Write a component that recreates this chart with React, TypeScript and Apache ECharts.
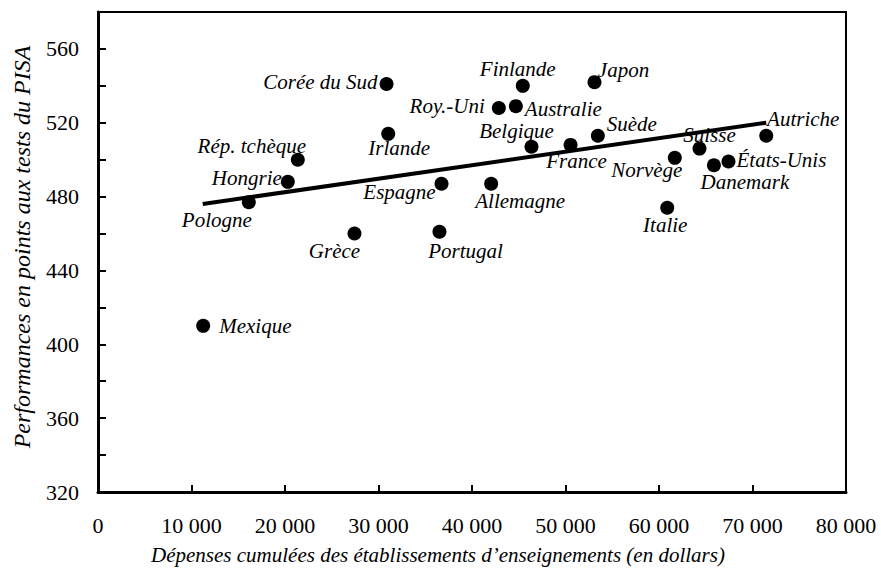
import React, { useEffect, useRef } from "react";
import * as echarts from "echarts";

const countries = [
  "Mexique", "Pologne", "Hongrie", "Rép. tchèque", "Corée du Sud", "Irlande", "Grèce",
  "Espagne", "Portugal", "Allemagne", "Roy.-Uni", "Australie", "Finlande", "Belgique",
  "France", "Japon", "Suède", "Norvège", "Italie", "Suisse", "Danemark", "États-Unis", "Autriche",
];
const spending = [
  11250, 16130, 20300, 21370, 30860, 31040, 27430,
  36740, 36520, 42050, 42870, 44690, 45430, 46360,
  50540, 53100, 53460, 61690, 60880, 64330, 65870, 67430, 71470,
];
const scores = [
  410, 477, 488, 500, 541, 514, 460,
  487, 461, 487, 528, 529, 540, 507,
  508, 542, 513, 501, 474, 506, 497, 499, 513,
];
const trendX = [11200, 71470];
const trendY = [476, 520];

const xTicks = { min: 0, max: 80000, step: 10000 };
const yTicks = { min: 320, max: 580, step: 20, labelStep: 40 };

// label placement per country: [dx, dy, align]
const labelPlacement: Record<string, [number, number, string]> = {
  "Mexique": [16, 0, "left"],
  "Pologne": [-32, 18, "center"],
  "Hongrie": [-6, -4, "right"],
  "Rép. tchèque": [-46, -14, "center"],
  "Corée du Sud": [-9, -2, "right"],
  "Irlande": [11, 14, "center"],
  "Grèce": [-20, 17, "center"],
  "Espagne": [-42, 8, "center"],
  "Portugal": [26, 19, "center"],
  "Allemagne": [29, 17, "center"],
  "Roy.-Uni": [-14, -2, "right"],
  "Australie": [9, 3, "left"],
  "Finlande": [-5, -17, "center"],
  "Belgique": [-15, -16, "center"],
  "France": [6, 16, "center"],
  "Japon": [29, -12, "center"],
  "Suède": [34, -12, "center"],
  "Norvège": [-28, 12, "center"],
  "Italie": [-2, 17, "center"],
  "Suisse": [10, -14, "center"],
  "Danemark": [31, 17, "center"],
  "États-Unis": [8, -2, "left"],
  "Autriche": [37, -17, "center"],
};

const FONT = "Liberation Serif";
const tickText = { fontFamily: FONT, fontStyle: "normal", fontWeight: "normal", fontSize: 22, color: "#000" };

export default function App() {
  const ref = useRef<HTMLDivElement>(null);
  useEffect(() => {
    document.body.style.margin = "0";
    if (!ref.current) return;
    const chart = echarts.init(ref.current, null, { renderer: "svg" });
    const points = countries.map((name, i) => {
      const p = labelPlacement[name] || [0, -14, "center"];
      return {
        name,
        value: [spending[i], scores[i]],
        label: {
          show: true,
          position: "inside",
          align: p[2],
          verticalAlign: "middle",
          offset: [p[0], p[1]],
          formatter: name,
          fontFamily: FONT,
          fontStyle: "italic",
          fontSize: 21,
          color: "#000",
        },
      };
    });
    chart.setOption({
      animation: false,
      textStyle: { fontFamily: FONT },
      grid: {
        left: 98,
        right: 35,
        top: 12,
        bottom: 82,
        show: true,
        borderColor: "#000",
        borderWidth: 2,
        backgroundColor: "transparent",
      },
      xAxis: {
        type: "value",
        min: xTicks.min,
        max: xTicks.max,
        interval: xTicks.step,
        splitLine: { show: false },
        axisLine: { show: true, onZero: false, lineStyle: { color: "#000", width: 3 } },
        axisTick: { show: true, inside: true, length: 7, lineStyle: { color: "#000", width: 2 } },
        axisLabel: {
          margin: 22,
          ...tickText,
          formatter: (v: number) => (v === 0 ? "0" : String(v).replace(/\B(?=(\d{3})+(?!\d))/g, " ")),
        },
      },
      yAxis: {
        type: "value",
        min: yTicks.min,
        max: yTicks.max,
        interval: yTicks.step,
        splitLine: { show: false },
        axisLine: { show: true, onZero: false, lineStyle: { color: "#000", width: 3 } },
        axisTick: { show: true, inside: true, length: 8, lineStyle: { color: "#000", width: 2 } },
        axisLabel: {
          margin: 19,
          ...tickText,
          formatter: (v: number) => (v % yTicks.labelStep === 0 && v < yTicks.max ? String(v) : ""),
        },
      },
      graphic: [
        {
          type: "text",
          x: 22,
          y: 247,
          rotation: Math.PI / 2,
          style: {
            text: "Performances en points aux tests du PISA",
            fontFamily: FONT,
            fontStyle: "italic",
            fontSize: 24,
            fill: "#000",
            align: "center",
            verticalAlign: "middle",
          },
        },
        {
          type: "text",
          x: 438,
          y: 555,
          style: {
            text: "Dépenses cumulées des établissements d’enseignements (en dollars)",
            fontFamily: FONT,
            fontStyle: "italic",
            fontSize: 21,
            fill: "#000",
            align: "center",
            verticalAlign: "middle",
          },
        },
      ],
      series: [
        {
          type: "line",
          data: trendX.map((x, i) => [x, trendY[i]]),
          symbol: "none",
          lineStyle: { color: "#000", width: 4 },
          z: 2,
          silent: true,
        },
        {
          type: "scatter",
          data: points,
          symbol: "circle",
          symbolSize: 14,
          itemStyle: { color: "#000", opacity: 1 },
          z: 3,
        },
      ],
    });
    return () => chart.dispose();
  }, []);
  return <div ref={ref} style={{ width: 881, height: 574 }} />;
}
